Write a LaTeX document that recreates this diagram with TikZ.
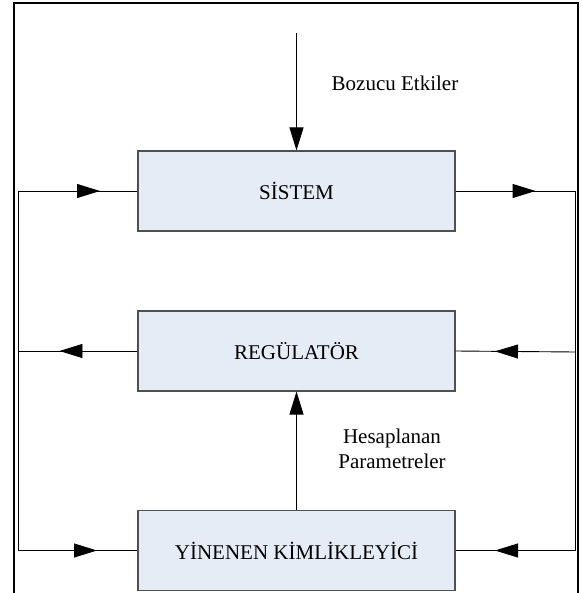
\documentclass[tikz,border=0pt]{standalone}
\usepackage{fontspec}
\setmainfont{Liberation Serif}
\usetikzlibrary{arrows.meta,decorations.markings}
\definecolor{boxfill}{HTML}{E6ECF6}
\definecolor{boxline}{HTML}{505050}
\tikzset{
  x=1pt,y=1pt,
  blok/.style={draw=boxline,fill=boxfill,line width=1.1pt,minimum width=317pt,minimum height=80pt,inner sep=0pt,font=\fontsize{21}{25}\selectfont},
  conn/.style={draw=black,line width=0.9pt},
  midarrow/.style={postaction={decorate},decoration={markings,mark=at position #1 with {\arrow{Triangle[length=23pt,width=14pt]}}}},
  endarrow/.style={-{Triangle[length=23pt,width=14pt]}},
  lbl/.style={font=\fontsize{21}{25}\selectfont,align=center,inner sep=0pt},
  frame/.style={draw=black,line width=2pt}
}
\begin{document}
\begin{tikzpicture}
\useasboundingbox (0,0) rectangle (581,-593);
\draw[frame] (14,-600) -- (14,-3) -- (578,-3) -- (578,-600);

\node[blok] (sis) at (296.5,-191) {SİSTEM};
\node[blok] (reg) at (296.5,-351) {REGÜLATÖR};
\node[blok] (yin) at (296.5,-550.5) {YİNENEN KİMLİKLEYİCİ};

\coordinate (top) at (296.5,-33);
\coordinate (L1) at (18,-191);
\coordinate (L2) at (18,-351);
\coordinate (L3) at (18,-550.5);
\coordinate (R1) at (575,-191);
\coordinate (R2) at (575,-352);
\coordinate (R3) at (575,-550.5);

\node[lbl] (boz) at (395,-83) {Bozucu Etkiler};
\node[lbl] (hes) at (392,-449) {Hesaplanan\\Parametreler};

\draw[conn,endarrow] (top) -- (sis.north);
\draw[conn,endarrow] (yin.north) -- (reg.south);

\draw[conn,midarrow=82pt] (L1) -- (sis.west);
\draw[conn,midarrow=78pt] (reg.west) -- (L2);
\draw[conn] (L1) -- (L3);
\draw[conn,midarrow=79pt] (L3) -- (yin.west);

\draw[conn,midarrow=80pt] (sis.east) -- (R1);
\draw[conn] (R1) -- (R3);
\draw[conn,midarrow=80pt] (R2) -- (reg.east);
\draw[conn,midarrow=80pt] (R3) -- (yin.east);
\end{tikzpicture}
\end{document}
